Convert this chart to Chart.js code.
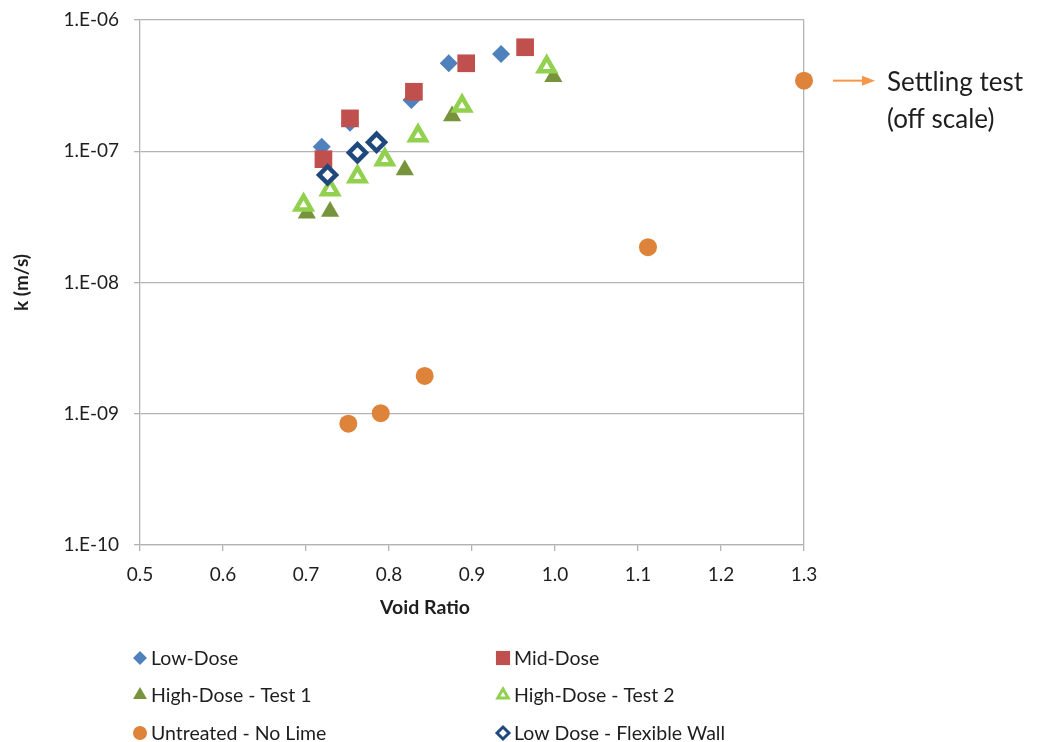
<!DOCTYPE html>
<html>
<head>
<meta charset="utf-8">
<script src="https://cdn.jsdelivr.net/npm/chart.js@4.4.4/dist/chart.umd.min.js"></script>
<style>
  html, body { margin: 0; padding: 0; background: #fff; }
  #wrap { width: 1038px; height: 742px; }
</style>
</head>
<body>
<div id="wrap"><canvas id="grafico" width="1038" height="742"></canvas></div>
<script>
/* ── Dados (índice de vazios x permeabilidade k) ── */
const lowDoseX   = [0.719, 0.753, 0.827, 0.872, 0.935];
const lowDoseK   = [1.08e-7, 1.65e-7, 2.46e-7, 4.68e-7, 5.5e-7];

const midDoseX   = [0.721, 0.753, 0.830, 0.893, 0.964];
const midDoseK   = [8.7e-8, 1.78e-7, 2.84e-7, 4.68e-7, 6.2e-7];

const highDose1X = [0.701, 0.729, 0.819, 0.876, 0.998];
const highDose1K = [3.37e-8, 3.47e-8, 7.2e-8, 1.86e-7, 3.7e-7];

const highDose2X = [0.697, 0.729, 0.762, 0.795, 0.835, 0.888, 0.990];
const highDose2K = [3.9e-8, 5.1e-8, 6.4e-8, 8.6e-8, 1.31e-7, 2.21e-7, 4.4e-7];

const untreatedX = [0.751, 0.790, 0.843, 1.112, 1.300];
const untreatedK = [8.4e-10, 1.01e-9, 1.94e-9, 1.86e-8, 3.45e-7];

const flexWallX  = [0.726, 0.762, 0.785];
const flexWallK  = [6.6e-8, 9.75e-8, 1.17e-7];

const seriesNames = ['Low-Dose', 'Mid-Dose', 'High-Dose - Test 1', 'High-Dose - Test 2',
                     'Untreated - No Lime', 'Low Dose - Flexible Wall'];

const xTickValues = [0.5, 0.6, 0.7, 0.8, 0.9, 1.0, 1.1, 1.2, 1.3];
const xTickLabels = ['0.5', '0.6', '0.7', '0.8', '0.9', '1.0', '1.1', '1.2', '1.3'];
const yTickValues = [1e-10, 1e-9, 1e-8, 1e-7, 1e-6];
const yTickLabels = ['1.E-10', '1.E-09', '1.E-08', '1.E-07', '1.E-06'];

const xTitle = 'Void Ratio';
const yTitle = 'k (m/s)';
const noteLines = ['Settling test', '(off scale)'];

/* ── Estilo ── */
const FONTE = "Lato, 'Open Sans', sans-serif";
const COR_TEXTO = '#1e1e1e';
const COR_GRADE = '#b3b3b3';

function pares(xs, ks) {
  return xs.map((x, i) => ({ x: x, y: ks[i] }));
}

/* estilo de cada série: marcador, cores e tamanhos (gráfico / legenda) */
const estilos = [
  { shape: 'rectRot',  fill: '#4f81bd', stroke: '#4f81bd', r: 9,    bw: 0,   lr: 7,  lbw: 0 },
  { shape: 'rect',     fill: '#c0504d', stroke: '#c0504d', r: 12.5, bw: 0,   lr: 10, lbw: 0 },
  { shape: 'triangle', fill: '#77933c', stroke: '#77933c', r: 10.5, bw: 0,   lr: 8,  lbw: 0 },
  { shape: 'triangle', fill: '#ffffff', stroke: '#92d050', r: 9,    bw: 4.5, lr: 6,  lbw: 3 },
  { shape: 'circle',   fill: '#dd843a', stroke: '#dd843a', r: 9,    bw: 0,   lr: 7,  lbw: 0 },
  { shape: 'rectRot',  fill: '#ffffff', stroke: '#1f497d', r: 8.5,  bw: 4.5, lr: 6,  lbw: 3 }
];

const dadosSeries = [
  pares(lowDoseX, lowDoseK),
  pares(midDoseX, midDoseK),
  pares(highDose1X, highDose1K),
  pares(highDose2X, highDose2K),
  pares(untreatedX, untreatedK),
  pares(flexWallX, flexWallK)
];

const datasets = dadosSeries.map((d, i) => ({
  label: seriesNames[i],
  data: d,
  showLine: false,
  pointStyle: estilos[i].shape,
  pointRadius: estilos[i].r,
  pointHoverRadius: estilos[i].r,
  pointBackgroundColor: estilos[i].fill,
  pointBorderColor: estilos[i].stroke,
  pointBorderWidth: estilos[i].bw,
  backgroundColor: estilos[i].fill,
  borderColor: estilos[i].stroke,
  clip: false,
  order: dadosSeries.length - i   // primeira série desenhada por baixo
}));

/* ── Legenda fixa em duas colunas + título do eixo X (deslocado como no Excel) ── */
const legendaPlugin = {
  id: 'legendaFixa',
  afterDraw(chart) {
    const ctx = chart.ctx;
    const colX = [140, 503];
    const linhaY = [658, 695, 733];
    ctx.save();
    ctx.font = '19.5px ' + FONTE;
    ctx.textBaseline = 'middle';
    ctx.textAlign = 'left';
    seriesNames.forEach((nome, i) => {
      const e = estilos[i];
      const x = colX[i % 2];
      const y = linhaY[Math.floor(i / 2)];
      ctx.fillStyle = e.fill;
      ctx.strokeStyle = e.stroke;
      ctx.lineWidth = e.lbw;
      Chart.helpers.drawPoint(ctx, { pointStyle: e.shape, radius: e.lr, borderWidth: e.lbw, rotation: 0 }, x, y);
      ctx.fillStyle = COR_TEXTO;
      ctx.fillText(nome, x + 11, y + 1);
    });

    /* título do eixo X */
    ctx.font = 'bold 19.5px ' + FONTE;
    ctx.textAlign = 'center';
    ctx.fillText(xTitle, 425, 608);
    ctx.restore();
  }
};

/* ── Nota "Settling test" com seta, ao lado do último ponto ── */
const notaPlugin = {
  id: 'notaSettling',
  afterDatasetsDraw(chart) {
    const ctx = chart.ctx;
    const px = chart.scales.x.getPixelForValue(untreatedX[untreatedX.length - 1]);
    const py = chart.scales.y.getPixelForValue(untreatedK[untreatedK.length - 1]);
    ctx.save();
    ctx.strokeStyle = '#f79646';
    ctx.fillStyle = '#f79646';
    ctx.lineWidth = 2;
    ctx.beginPath();
    ctx.moveTo(px + 29, py);
    ctx.lineTo(px + 60, py);
    ctx.stroke();
    ctx.beginPath();
    ctx.moveTo(px + 71, py);
    ctx.lineTo(px + 58, py - 5);
    ctx.lineTo(px + 58, py + 5);
    ctx.closePath();
    ctx.fill();
    ctx.fillStyle = COR_TEXTO;
    ctx.font = '26px ' + FONTE;
    ctx.textBaseline = 'alphabetic';
    ctx.textAlign = 'left';
    ctx.fillText(noteLines[0], px + 83, py + 10);
    ctx.fillText(noteLines[1], px + 83, py + 47);
    ctx.restore();
  }
};

const grafico = new Chart(document.getElementById('grafico').getContext('2d'), {
  type: 'scatter',
  data: { datasets: datasets },
  options: {
    responsive: false,
    animation: false,
    events: [],
    layout: { padding: { left: 0, top: 20, right: 234, bottom: 117 } },
    plugins: {
      legend: { display: false },
      tooltip: { enabled: false }
    },
    scales: {
      x: {
        type: 'linear',
        min: 0.5,
        max: 1.3,
        afterBuildTicks: s => { s.ticks = xTickValues.map(v => ({ value: v })); },
        afterFit: s => { s.height = 80; },
        ticks: {
          color: COR_TEXTO,
          font: { family: FONTE, size: 19 },
          padding: 12,
          maxRotation: 0,
          callback: (v, i) => xTickLabels[i]
        },
        grid: {
          drawOnChartArea: true,
          color: c => (c.index === xTickValues.length - 1 ? COR_GRADE : 'rgba(0,0,0,0)'),
          tickColor: COR_GRADE,
          tickLength: 6,
          lineWidth: 1.3
        },
        border: { display: true, color: COR_GRADE, width: 1.3 },
        title: { display: false }
      },
      y: {
        type: 'logarithmic',
        min: 1e-10,
        max: 1e-6,
        afterBuildTicks: s => { s.ticks = yTickValues.map(v => ({ value: v })); },
        afterFit: s => { s.width = 140; s.paddingTop = 10; s.paddingBottom = 10; },
        ticks: {
          color: COR_TEXTO,
          font: { family: FONTE, size: 19 },
          padding: 15,
          callback: (v, i) => yTickLabels[i]
        },
        grid: {
          color: COR_GRADE,
          tickColor: COR_GRADE,
          tickLength: 6,
          lineWidth: 1.3
        },
        border: { display: true, color: COR_GRADE, width: 1.3 },
        title: {
          display: true,
          text: yTitle,
          color: COR_TEXTO,
          font: { family: FONTE, size: 19, weight: 'bold' },
          padding: { top: 10, bottom: 0 }
        }
      }
    }
  },
  plugins: [legendaPlugin, notaPlugin]
});
</script>
</body>
</html>
